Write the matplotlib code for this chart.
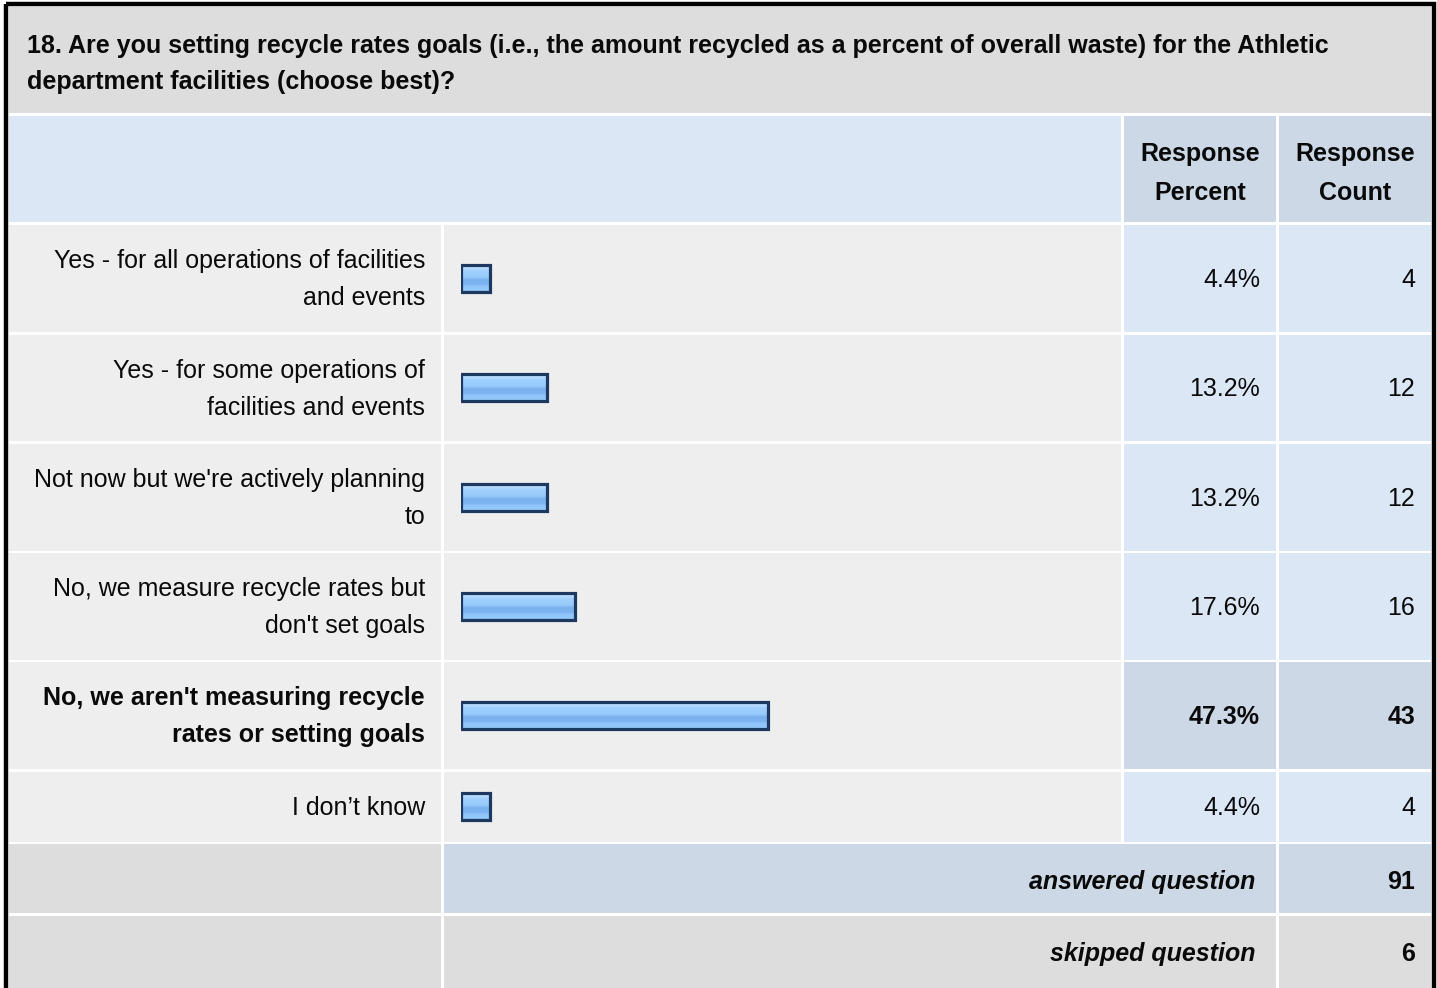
import numpy as np
import matplotlib
matplotlib.use('Agg')
import matplotlib.pyplot as plt
from matplotlib.patches import Rectangle
from matplotlib.colors import LinearSegmentedColormap

# data
question = ['18. Are you setting recycle rates goals (i.e., the amount recycled as a percent of overall waste) for the Athletic',
            'department facilities (choose best)?']
labels = ['Yes - for all operations of facilities\nand events',
          'Yes - for some operations of\nfacilities and events',
          "Not now but we're actively planning\nto",
          "No, we measure recycle rates but\ndon't set goals",
          "No, we aren't measuring recycle\nrates or setting goals",
          'I don\u2019t know']
percents = [4.4, 13.2, 13.2, 17.6, 47.3, 4.4]
counts = [4, 12, 12, 16, 43, 4]
answered = 91
skipped = 6
top_row = 4  # the highlighted answer

plt.rcParams['font.family'] = ['Liberation Sans', 'DejaVu Sans']
FS = 18
INK = '#0a0a0a'

W, H = 1437, 988
fig = plt.figure(figsize=(W / 100, H / 100), dpi=100)
ax = fig.add_axes([0, 0, 1, 1])
ax.set_xlim(0, W)
ax.set_ylim(H, 0)
ax.axis('off')

GRAY = '#dddddd'
LIGHT = '#eeeeee'
BLUE = '#dce7f5'
BLUE2 = '#ccd8e6'

cols = [(9, 441), (444, 1121), (1124, 1276), (1279, 1431)]
row_tops = [225, 334.5, 444, 553, 662, 772]
row_h = [106.5] * 5 + [69.5]


def cell(x0, x1, y0, y1, c):
    ax.add_patch(Rectangle((x0, y0), x1 - x0, y1 - y0, facecolor=c, edgecolor='none'))


def put(x, ymid, s, **kw):
    # y is the middle of the capitals; baseline sits half a cap height lower
    ax.text(x, ymid + 8.5, s, fontsize=FS, va='baseline', color=INK, **kw)


# white page + black frame
ax.add_patch(Rectangle((0, 0), W, H, facecolor='white', edgecolor='none'))
ax.add_patch(Rectangle((6, 4.5), 1427.5, 1000, facecolor='none', edgecolor='black', lw=3.2))

# title
cell(9, 1431, 7, 113, GRAY)
for i, line in enumerate(question):
    put(27, 44 + 37 * i, line, fontweight='bold', ha='left')

# header
cell(9, 1121, 116, 222, BLUE)
cell(*cols[2], 116, 222, BLUE2)
cell(*cols[3], 116, 222, BLUE2)
for c, word in [(cols[2], 'Percent'), (cols[3], 'Count')]:
    xc = (c[0] + c[1]) / 2
    put(xc, 153, 'Response', fontweight='bold', ha='center')
    put(xc, 191, word, fontweight='bold', ha='center')

# answer rows
centers = []
for i in range(len(labels)):
    y0 = row_tops[i]
    y1 = y0 + row_h[i]
    yc = (y0 + y1) / 2
    centers.append(yc)
    right = BLUE2 if i == top_row else BLUE
    cell(*cols[0], y0, y1, LIGHT)
    cell(*cols[1], y0, y1, LIGHT)
    cell(*cols[2], y0, y1, right)
    cell(*cols[3], y0, y1, right)
    fw = 'bold' if i == top_row else 'normal'
    lines = labels[i].split('\n')
    offs = [0] if len(lines) == 1 else [-18.5, 18.5]
    for ln, o in zip(lines, offs):
        put(425, yc + o, ln, fontweight=fw, ha='right')
    put(1260, yc, f'{percents[i]:.1f}%', fontweight=fw, ha='right')
    put(1415, yc, str(counts[i]), fontweight=fw, ha='right')

# summary rows
cell(*cols[0], 844, 913, GRAY)
cell(444, 1276, 844, 913, BLUE2)
cell(*cols[3], 844, 913, BLUE2)
cell(*cols[0], 916, H + 5, GRAY)
cell(444, 1276, 916, H + 5, GRAY)
cell(*cols[3], 916, H + 5, GRAY)
put(1255, 880, 'answered question', fontweight='bold', style='italic', ha='right')
put(1415, 880, str(answered), fontweight='bold', ha='right')
put(1255, 952, 'skipped question', fontweight='bold', style='italic', ha='right')
put(1415, 952, str(skipped), fontweight='bold', ha='right')

# bars: own axes, x in percent, y in page pixels
bx = fig.add_axes([461 / W, 0, 650 / W, 1])
bx.axis('off')
bx.patch.set_alpha(0)

grad = LinearSegmentedColormap.from_list('bar', [
    (0.0, '#c8e3ff'), (0.12, '#b4daff'), (0.2, '#a2d1ff'), (0.45, '#96c9fb'),
    (0.55, '#7ab2ee'), (0.72, '#7cb4f0'), (0.8, '#90c6fa'), (1.0, '#94c9fc')])
bars = bx.barh(centers, percents, height=27, facecolor='none', edgecolor='#1d3960', linewidth=2.3, zorder=3)
for b in bars:
    x0, y0 = b.get_x(), b.get_y()
    im = bx.imshow(np.linspace(0, 1, 64).reshape(-1, 1), cmap=grad, aspect='auto',
                   extent=(x0, x0 + b.get_width(), y0 + b.get_height(), y0), zorder=2)
    im.set_clip_path(b)
bx.set_xlim(0, 100)
bx.set_ylim(H, 0)

fig.savefig('out.png', dpi=100)
